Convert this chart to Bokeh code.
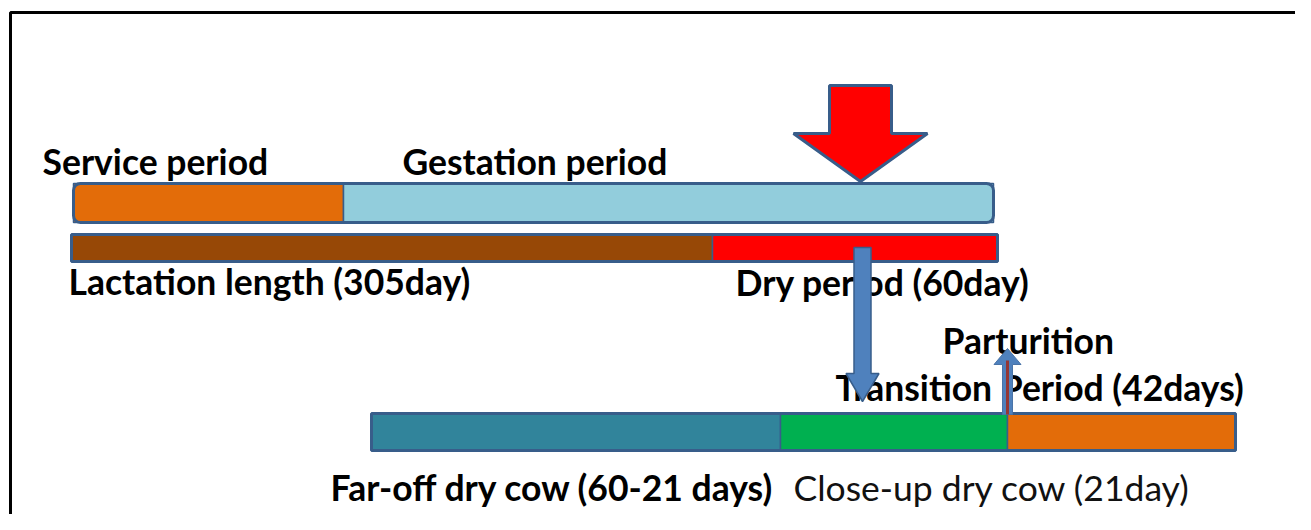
from bokeh.plotting import figure
from bokeh.models import Range1d, ColumnDataSource
from bokeh.core.properties import value
from bokeh.embed import file_html
from bokeh.resources import INLINE

# ---------------- data (diagram units = picture pixels) ----------------
top_labels = ["Service period", "Gestation period"]
top_edges = [73, 343, 993]
top_colors = ["#e36c09", "#92cddc"]

mid_labels = ["Lactation length (305day)", "Dry period (60day)"]
mid_edges = [71, 712, 997]
mid_colors = ["#974806", "#ff0000"]

bot_labels = ["Far-off dry cow (60-21 days)", "Close-up dry cow (21day)"]
bot_edges = [371, 780, 1007, 1235]
bot_colors = ["#31849b", "#00b050", "#e36c09"]

extra_labels = ["Parturition", "Transition Period (42days)"]

# rows: (top, bottom)
row_top = (183, 222)
row_mid = (234, 261)
row_bot = (413, 450)

# label anchors (left x, baseline y)
label_text = top_labels + mid_labels + extra_labels + bot_labels
label_x = [42, 402, 68, 735, 942, 835, 330, 793]
label_y = [175, 175, 295, 296, 354, 401, 501, 501]
label_bold = [True, True, True, True, True, True, True, False]
BASE_SHIFT = -14  # renderer places alphabetic baseline lower than requested

OUT = "#385d8a"
FONT = value("Lato")

W, H = 1295, 514

p = figure(width=W, height=H, x_range=Range1d(0, W), y_range=Range1d(H, 0),
           output_backend="svg", toolbar_location=None, min_border=0,
           x_axis_type=None, y_axis_type=None)
p.grid.visible = False
p.outline_line_color = None
p.background_fill_color = "white"
p.border_fill_color = "white"

# frame
p.line(x=[10, 10, 1320], y=[540, 12, 12], line_color="black", line_width=3)


def bar(edges, colors, row, radius=0):
    src = ColumnDataSource(dict(left=edges[:-1], right=edges[1:], color=colors))
    p.quad(left="left", right="right", top=row[0], bottom=row[1], fill_color="color",
           line_color=OUT, line_width=1.5, source=src)
    p.quad(left=edges[0], right=edges[-1], top=row[0], bottom=row[1], fill_color=None,
           line_color=OUT, line_width=3, border_radius=radius)


bar(top_edges, top_colors, row_top, radius=7)
bar(mid_edges, mid_colors, row_mid)
bar(bot_edges, bot_colors, row_bot)


# labels
def pick(seq, flag):
    return [v for v, b in zip(seq, label_bold) if b == flag]


src_b = ColumnDataSource(dict(x=pick(label_x, True), y=[v + BASE_SHIFT for v in pick(label_y, True)],
                              t=pick(label_text, True)))
src_n = ColumnDataSource(dict(x=pick(label_x, False), y=[v + BASE_SHIFT for v in pick(label_y, False)],
                              t=pick(label_text, False)))
p.text(x="x", y="y", text="t", source=src_b, text_font=FONT, text_font_size="35.5px",
       text_font_style="bold", text_baseline="alphabetic", text_align="left", text_color="black")
p.text(x="x", y="y", text="t", source=src_n, text_font=FONT, text_font_size="35.5px",
       text_font_style="normal", text_baseline="alphabetic", text_align="left", text_color="#111111")


def arrow(cx, y0, y_head, y_tip, shaft_w, head_w):
    s, h = shaft_w / 2, head_w / 2
    xs = [cx - s, cx + s, cx + s, cx + h, cx, cx - h, cx - s]
    ys = [y0, y0, y_head, y_head, y_tip, y_head, y_head]
    return xs, ys


# big red arrow pointing at the gestation bar
xs, ys = arrow(860, 85, 133, 181, 62, 134)
p.patch(xs, ys, fill_color="#ff0000", line_color=OUT, line_width=3)

# blue arrow from dry period to transition bar
xs, ys = arrow(862, 247, 373, 401, 17, 33)
p.patch(xs, ys, fill_color="#4f81bd", line_color=OUT, line_width=1.5)

# parturition marker
xs, ys = arrow(1007, 414, 364, 348, 10, 27)
p.patch(xs, ys, fill_color="#4f81bd", line_color="#4a74a8", line_width=1)
p.line(x=[1007, 1007], y=[414, 360], line_color="#953735", line_width=3)

open("out.html", "w").write(file_html(p, INLINE))
